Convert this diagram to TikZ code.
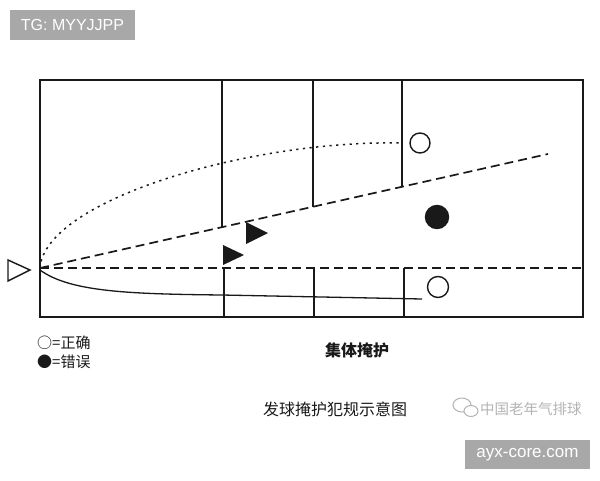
\documentclass[tikz,border=0pt]{standalone}
\usepackage{fontspec}
\newfontfamily\cjk{Noto Sans CJK SC}
\newfontfamily\wm{Liberation Sans}
\definecolor{wmgray}{HTML}{A8A8A8}
\definecolor{lightg}{HTML}{B4B4B4}
\begin{document}
\begin{tikzpicture}[x=1pt,y=-1pt,
  court/.style={line width=1.5pt,black!90},
  dashln/.style={line width=1.7pt,dash pattern=on 9pt off 5pt,black!90},
  dotln/.style={line width=1.5pt,dash pattern=on 2.2pt off 4.5pt,black!90},
  player/.style={fill=black!90},
  ball/.style={circle,draw=black!90,line width=1.4pt,inner sep=0pt,minimum width=20pt,minimum height=20pt},
  txt/.style={font=\cjk,inner sep=0pt,text=black!90},
  tag/.style={fill=wmgray,text=white,font=\wm,inner sep=0pt}]
\useasboundingbox (0,0) rectangle (600,480);
\fill[white] (0,0) rectangle (600,480);

% court outline
\draw[court] (40,80) rectangle (583,317);
\coordinate (O) at (40,268);
\coordinate (E) at (548,154);
\coordinate (R) at (583,268);
% upper vertical lines ending on the slanted dashed line
\draw[court] (222,80) -- (222,227.2);
\draw[court] (313,80) -- (313,206.7);
\draw[court] (402,80) -- (402,186.7);
% lower vertical lines
\draw[court] (224,268) -- (224,317);
\draw[court] (314,268) -- (314,317);
\draw[court] (404,268) -- (404,317);

% dashed lines
\draw[dashln] (O) -- (R);
\draw[dashln] (O) -- (E);
% dotted curve
\draw[dotln] (O) .. controls (45,200) and (250,140) .. (400,143);
% solid curve
\draw[line width=1.3pt,black!90] (40,270) .. controls (70,292) and (130,294) .. (222,295) -- (422,299);

% server (outline triangle)
\draw[line width=1.4pt,black!90] (8,260) -- (30,270) -- (8,281) -- cycle;
% players
\fill[player] (223,245) -- (244,255) -- (223,265) -- cycle;
\fill[player] (246,222) -- (268,233) -- (246,244) -- cycle;

% balls
\node[ball] (b1) at (420,143) {};
\node[ball,fill=black!90,minimum width=23pt,minimum height=22pt] (b2) at (437,217) {};
\node[ball,minimum width=21pt] (b3) at (438,287) {};

% legend
\node[txt,anchor=west,font=\cjk\fontsize{15}{15}\selectfont] (l1) at (37,343) {○=正确};
\node[txt,anchor=west,font=\cjk\fontsize{15}{15}\selectfont] (l2) at (37,362) {●=错误};

% captions
\node[txt,font=\cjk\bfseries\fontsize{16}{16}\selectfont] (c1) at (357,350) {集体掩护};
\node[txt,font=\cjk\fontsize{16}{16}\selectfont] (c2) at (335,409) {发球掩护犯规示意图};

% wechat watermark
\draw[lightg,line width=1pt] (462,405) ellipse (9pt and 7pt);
\draw[lightg,line width=1pt,fill=white] (471,411) ellipse (7pt and 5.5pt);
\node[txt,anchor=west,text=lightg,font=\cjk\fontsize{14.5}{14.5}\selectfont] (w) at (480,409) {中国老年气排球};

% tags
\node[tag,minimum width=125pt,minimum height=30pt,font=\wm\fontsize{16}{16}\selectfont] (tg) at (72.5,25) {TG: MYYJJPP};
\node[tag,minimum width=125pt,minimum height=29pt,font=\wm\fontsize{17}{17}\selectfont] (ax) at (527.5,454.5) {ayx-core.com};
\end{tikzpicture}
\end{document}
